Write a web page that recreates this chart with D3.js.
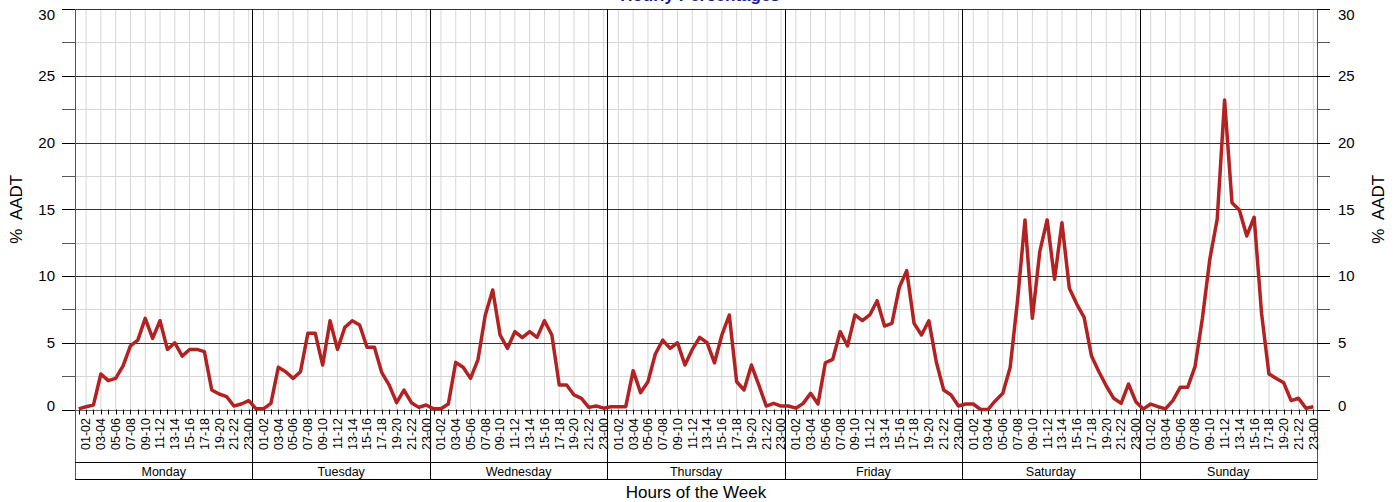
<!DOCTYPE html>
<html>
<head>
<meta charset="utf-8">
<script src="https://cdn.jsdelivr.net/npm/d3@7"></script>
<style>
  html, body { margin: 0; padding: 0; background: #ffffff; }
  svg { display: block; }
  .pre { white-space: pre; }
</style>
</head>
<body>
<svg id="chart" width="1398" height="502"></svg>
<script>
// data: % of AADT for each hour of the week
const days = ["Monday", "Tuesday", "Wednesday", "Thursday", "Friday", "Saturday", "Sunday"]
const hourLabels = ["00-01","01-02","02-03","03-04","04-05","05-06","06-07","07-08","08-09","09-10","10-11","11-12",
                    "12-13","13-14","14-15","15-16","16-17","17-18","18-19","19-20","20-21","21-22","22-23","23-00"]

const monday    = [0.05,0.21,0.34,2.66,2.16,2.33,3.26,4.76,5.2,6.83,5.33,6.65,4.5,5.0,4.0,4.5,4.5,4.33,1.46,1.16,0.96,0.26,0.41,0.66]
const tuesday   = [0.05,0.05,0.46,3.16,2.83,2.33,2.83,5.71,5.71,3.33,6.65,4.5,6.15,6.65,6.33,4.66,4.66,2.76,1.83,0.51,1.46,0.51,0.16,0.34]
const wednesday = [0.05,0.05,0.41,3.53,3.16,2.33,3.71,7.08,8.95,5.58,4.58,5.83,5.38,5.83,5.4,6.65,5.58,1.83,1.83,1.09,0.84,0.16,0.26,0.1]
const thursday  = [0.21,0.21,0.21,2.91,1.26,2.08,4.16,5.2,4.58,5.0,3.33,4.5,5.4,5.0,3.5,5.58,7.08,2.08,1.46,3.33,1.83,0.26,0.46,0.26]
const friday    = [0.26,0.1,0.46,1.21,0.41,3.5,3.76,5.83,4.76,7.08,6.65,7.08,8.15,6.25,6.45,9.15,10.4,6.45,5.58,6.65,3.58,1.46,1.09,0.26]
const saturday  = [0.41,0.41,0.0,0.0,0.66,1.21,3.16,8.2,14.2,6.83,11.82,14.2,9.75,13.99,9.08,7.9,6.9,4.0,2.83,1.76,0.84,0.46,1.91,0.58]
const sunday    = [0.03,0.41,0.21,0.05,0.66,1.66,1.66,3.21,6.83,11.25,14.25,23.18,15.49,14.94,13.0,14.4,7.2,2.66,2.33,2.0,0.66,0.84,0.1,0.2]

const dayValues = [monday, tuesday, wednesday, thursday, friday, saturday, sunday]

const yTicks = [0, 5, 10, 15, 20, 25, 30]
const yMinorTicks = [2.5, 7.5, 12.5, 17.5, 22.5, 27.5]

const title = "Hourly Percentages"
const yTitle = "%  AADT"
const xTitle = "Hours of the Week"

// flatten to one series over the week
const data = []
dayValues.forEach((vals, d) => {
  vals.forEach((v, h) => data.push({ slot: d * 24 + h, day: days[d], hour: h, value: v }))
})

const margin = { top: 9, left: 75 }
const plotRight = 1317
const plotBottom = 409.5
const stripTop = 462
const stripBottom = 479

const svg = d3.select("#chart")
const font = "Liberation Sans, Arial, sans-serif"

const x = d3.scaleLinear().domain([0, 168]).range([margin.left, plotRight])
const y = d3.scaleLinear().domain([0, 30]).range([plotBottom, margin.top])

// end labels are nudged inside the plot, like the reference
const labelY = d => d === 30 ? y(d) + 6 : d === 0 ? y(d) - 4 : y(d)

const grid = svg.append("g").attr("id", "grid")

// vertical light gridlines at the labelled hours
const labelledSlots = d3.range(168).filter(s => s % 2 === 1)
grid.selectAll("line.vgrid")
  .data(labelledSlots)
  .join("line")
  .attr("class", "vgrid")
  .attr("x1", s => x(s + 0.5)).attr("x2", s => x(s + 0.5))
  .attr("y1", y(30)).attr("y2", y(0))
  .attr("stroke", "#d6d6d6").attr("stroke-width", 1)

// minor horizontal gridlines
grid.selectAll("line.hminor")
  .data(yMinorTicks)
  .join("line")
  .attr("class", "hminor")
  .attr("x1", x(0)).attr("x2", x(168))
  .attr("y1", d => Math.round(y(d)) + 0.5).attr("y2", d => Math.round(y(d)) + 0.5)
  .attr("stroke", "#d6d6d6").attr("stroke-width", 1)

// major horizontal gridlines
grid.selectAll("line.hmajor")
  .data(yTicks)
  .join("line")
  .attr("class", "hmajor")
  .attr("x1", x(0)).attr("x2", x(168))
  .attr("y1", d => Math.round(y(d)) + 0.5).attr("y2", d => Math.round(y(d)) + 0.5)
  .attr("stroke", d => d === 0 ? "#666" : "#333").attr("stroke-width", 1)

// day separators run from the top of the plot down to the bottom of the strip
grid.selectAll("line.daysep")
  .data(d3.range(1, 7))
  .join("line")
  .attr("class", "daysep")
  .attr("x1", d => Math.round(x(d * 24)) + 0.5).attr("x2", d => Math.round(x(d * 24)) + 0.5)
  .attr("y1", y(30)).attr("y2", stripBottom)
  .attr("stroke", "#000").attr("stroke-width", 1)

// outer left / right frame lines
grid.selectAll("line.frame")
  .data([0, 168])
  .join("line")
  .attr("class", "frame")
  .attr("x1", d => Math.round(x(d)) + 0.5).attr("x2", d => Math.round(x(d)) + 0.5)
  .attr("y1", y(30)).attr("y2", stripBottom)
  .attr("stroke", "#555").attr("stroke-width", 1)

// y axes, left and right
const allYTicks = yTicks.concat(yMinorTicks)
const yLeft = svg.append("g").attr("id", "y-left")
yLeft.selectAll("line")
  .data(allYTicks)
  .join("line")
  .attr("x1", x(0) - 13).attr("x2", x(0))
  .attr("y1", d => Math.round(y(d)) + 0.5).attr("y2", d => Math.round(y(d)) + 0.5)
  .attr("stroke", d => yTicks.includes(d) ? "#000" : "#555")
yLeft.selectAll("text")
  .data(yTicks)
  .join("text")
  .attr("x", 55).attr("y", labelY)
  .attr("dy", "0.35em")
  .attr("text-anchor", "end")
  .attr("font-family", font).attr("font-size", 15)
  .attr("fill", "#000")
  .text(d => d)

const yRight = svg.append("g").attr("id", "y-right")
yRight.selectAll("line")
  .data(allYTicks)
  .join("line")
  .attr("x1", x(168)).attr("x2", x(168) + 13)
  .attr("y1", d => Math.round(y(d)) + 0.5).attr("y2", d => Math.round(y(d)) + 0.5)
  .attr("stroke", d => yTicks.includes(d) ? "#000" : "#555")
yRight.selectAll("text")
  .data(yTicks)
  .join("text")
  .attr("x", 1338).attr("y", labelY)
  .attr("dy", "0.35em")
  .attr("text-anchor", "start")
  .attr("font-family", font).attr("font-size", 15)
  .attr("fill", "#000")
  .text(d => d)

// axis titles
svg.append("text")
  .attr("class", "pre")
  .attr("transform", `translate(22,${y(15)}) rotate(-90)`)
  .attr("text-anchor", "middle")
  .attr("font-family", font).attr("font-size", 17)
  .text(yTitle)
svg.append("text")
  .attr("class", "pre")
  .attr("transform", `translate(1384,${y(15)}) rotate(-90)`)
  .attr("text-anchor", "middle")
  .attr("font-family", font).attr("font-size", 17)
  .text(yTitle)

// x ticks at each hour
const xAxis = svg.append("g").attr("id", "x-axis")
xAxis.selectAll("line")
  .data(d3.range(168))
  .join("line")
  .attr("x1", s => Math.round(x(s + 0.5)) + 0.5).attr("x2", s => Math.round(x(s + 0.5)) + 0.5)
  .attr("y1", plotBottom).attr("y2", plotBottom + 5)
  .attr("stroke", "#000")

xAxis.selectAll("text")
  .data(labelledSlots)
  .join("text")
  .attr("transform", s => `translate(${x(s + 0.5)},418) rotate(-90)`)
  .attr("dy", "0.35em")
  .attr("text-anchor", "end")
  .attr("font-family", font).attr("font-size", 12.5)
  .attr("fill", "#000")
  .text(s => hourLabels[s % 24])

// day strip
const strip = svg.append("g").attr("id", "strip")
strip.selectAll("line")
  .data([stripTop, stripBottom])
  .join("line")
  .attr("x1", x(0)).attr("x2", x(168) + 0.5)
  .attr("y1", d => d + 0.5).attr("y2", d => d + 0.5)
  .attr("stroke", "#000")
strip.selectAll("text")
  .data(days)
  .join("text")
  .attr("x", (d, i) => x(i * 24 + 12))
  .attr("y", (stripTop + stripBottom) / 2 + 1)
  .attr("dy", "0.35em")
  .attr("text-anchor", "middle")
  .attr("font-family", font).attr("font-size", 12.5)
  .text(d => d)

svg.append("text")
  .attr("x", (x(0) + x(168)) / 2)
  .attr("y", 498)
  .attr("text-anchor", "middle")
  .attr("font-family", font).attr("font-size", 17)
  .text(xTitle)

// title, mostly clipped by the top edge as in the reference
svg.append("text")
  .attr("x", (x(0) + x(168)) / 2 + 4)
  .attr("y", 1)
  .attr("text-anchor", "middle")
  .attr("font-family", font).attr("font-size", 17).attr("font-weight", "bold")
  .attr("fill", "#1a1a8c")
  .text(title)

// the series
const line = d3.line()
  .x(d => x(d.slot + 0.5))
  .y(d => y(d.value))

svg.append("path")
  .datum(data)
  .attr("d", line)
  .attr("fill", "none")
  .attr("stroke", "#b22222")
  .attr("stroke-width", 3.5)
  .attr("stroke-linejoin", "round")
</script>
</body>
</html>
